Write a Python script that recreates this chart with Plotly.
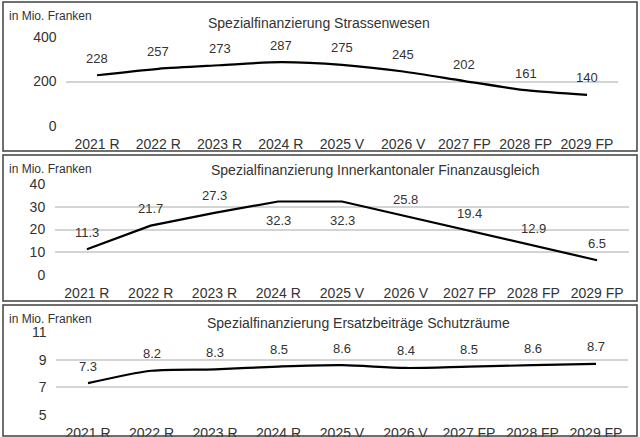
import plotly.graph_objects as go

categories = ["2021 R", "2022 R", "2023 R", "2024 R", "2025 V", "2026 V", "2027 FP", "2028 FP", "2029 FP"]
strassen = [228, 257, 273, 287, 275, 245, 202, 161, 140]
finanzausgleich = [11.3, 21.7, 27.3, 32.3, 32.3, 25.8, 19.4, 12.9, 6.5]
schutzraeume = [7.3, 8.2, 8.3, 8.5, 8.6, 8.4, 8.5, 8.6, 8.7]

titles = ["Spezialfinanzierung Strassenwesen",
          "Spezialfinanzierung Innerkantonaler Finanzausgleich",
          "Spezialfinanzierung Ersatzbeiträge Schutzräume"]
unit_label = "in Mio. Franken"
y_ticks = [[0, 200, 400], [0, 10, 20, 30, 40], [5, 7, 9, 11]]
y_ranges = [[0, 400], [0, 40], [5, 11]]
label_fmt = ["{:.0f}", "{:.1f}", "{:.1f}"]
# label below the point for these (panel index, category index)
below = {(1, 3), (1, 4)}

W, H = 640, 437
FONT = "Liberation Sans, Arial, sans-serif"
TXT = "#333333"
GRID = "#d4d4d4"

def px_x(p):
    return p / W

def px_y(p):
    return 1 - p / H

panels = [
    dict(x=(66.4, 617.6), y=(126, 37), box=(151, 2), unit_y=16, title=(319, 23), data=strassen, shape="spline"),
    dict(x=(55, 629), y=(275, 184), box=(301, 155), unit_y=169, title=(375, 170), data=finanzausgleich, shape="linear"),
    dict(x=(56.25, 627.75), y=(415, 332), box=(436, 305), unit_y=319, title=(358, 323), data=schutzraeume, shape="spline"),
]

fig = go.Figure()
annotations = []
shapes = []
for i, p in enumerate(panels):
    suf = "" if i == 0 else str(i + 1)
    xa = "x" + suf
    ya = "y" + suf
    xdom = [px_x(p["x"][0]), px_x(p["x"][1])]
    fig.add_trace(go.Scatter(
        x=categories, y=p["data"], mode="lines",
        line=dict(color="#000000", width=2.2, shape=p["shape"], smoothing=0.8),
        xaxis=xa, yaxis=ya, hoverinfo="skip", showlegend=False, cliponaxis=False))
    fig.layout["xaxis" + suf] = dict(
        domain=xdom, anchor=ya,
        type="category", range=[-0.5, 8.5], showgrid=False, showline=False,
        zeroline=False, ticks="outside", ticklen=5, tickcolor="rgba(0,0,0,0)",
        automargin=False,
        tickfont=dict(family=FONT, size=14, color=TXT), fixedrange=True)
    fig.layout["yaxis" + suf] = dict(
        domain=[px_y(p["y"][0]), px_y(p["y"][1])], anchor=xa,
        range=y_ranges[i], tickmode="array", tickvals=y_ticks[i],
        showgrid=True, gridcolor=GRID, gridwidth=2, layer="below traces",
        zeroline=False, showline=False,
        ticks="outside", ticklen=6, tickcolor="rgba(0,0,0,0)",
        automargin=False,
        tickfont=dict(family=FONT, size=14, color=TXT), fixedrange=True)
    for j, v in enumerate(p["data"]):
        annotations.append(dict(
            x=categories[j], y=v, xref=xa, yref=ya, text=label_fmt[i].format(v),
            showarrow=False, yshift=-18.5 if (i, j) in below else 17,
            font=dict(family=FONT, size=13, color=TXT)))
    annotations.append(dict(
        x=px_x(7), y=px_y(p["unit_y"]), xref="paper", yref="paper",
        text=unit_label, showarrow=False, xanchor="left", yanchor="middle",
        font=dict(family=FONT, size=12, color=TXT)))
    annotations.append(dict(
        x=px_x(p["title"][0]), y=px_y(p["title"][1]), xref="paper", yref="paper",
        text=titles[i], showarrow=False, xanchor="center", yanchor="middle",
        font=dict(family=FONT, size=14, color=TXT)))
    shapes.append(dict(
        type="rect", xref="paper", yref="paper",
        x0=px_x(3), x1=px_x(637), y0=px_y(p["box"][0]), y1=px_y(p["box"][1]),
        line=dict(color="#404040", width=1.5), fillcolor="rgba(0,0,0,0)"))

fig.update_layout(
    template="none",
    width=W, height=H, margin=dict(l=0, r=0, t=0, b=0),
    paper_bgcolor="white", plot_bgcolor="white",
    annotations=annotations, shapes=shapes, showlegend=False)

fig.write_html(
    "out.html",
    config={"displayModeBar": False, "staticPlot": True},
    post_script="document.body.style.margin='0';document.body.style.overflow='hidden';",
)
